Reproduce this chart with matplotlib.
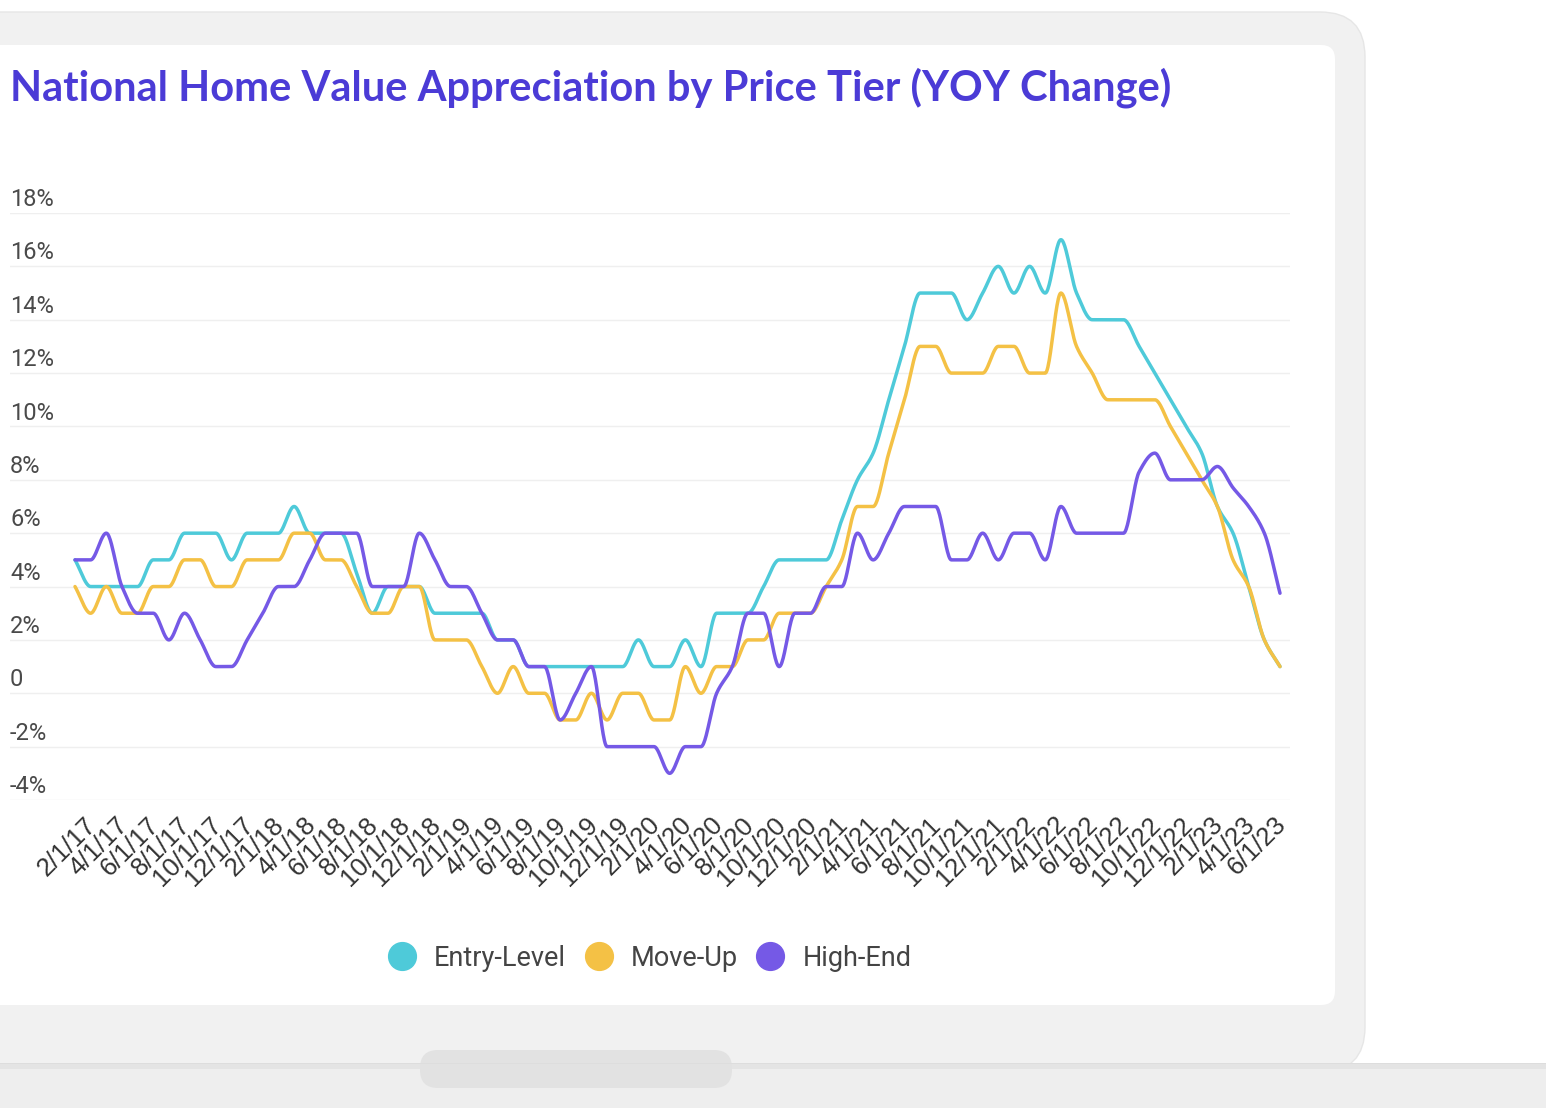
import matplotlib
matplotlib.use("Agg")
import matplotlib.pyplot as plt
import matplotlib.transforms as mtransforms
from matplotlib.lines import Line2D
from matplotlib.patches import FancyBboxPatch, Rectangle
import numpy as np
import pandas as pd

# monthly points, 2/1/17 .. 7/1/23
months = pd.date_range("2017-02-01", periods=78, freq="MS")
month_labels = [f"{d.month}/{d.day}/{d.strftime('%y')}" for d in months]

entry_level = [5, 4, 4, 4, 4, 5, 5, 6, 6, 6, 5, 6, 6, 6, 7, 6, 6, 6, 4.5, 3,
               4, 4, 4, 3, 3, 3, 3, 2, 2, 1, 1, 1, 1, 1, 1, 1, 2, 1, 1, 2,
               1, 3, 3, 3, 4, 5, 5, 5, 5, 6.5, 8, 9, 11, 13, 15, 15, 15, 14, 15, 16,
               15, 16, 15, 17, 15, 14, 14, 14, 13, 12, 11, 10, 9, 7, 6, 4, 2, 1]
move_up = [4, 3, 4, 3, 3, 4, 4, 5, 5, 4, 4, 5, 5, 5, 6, 6, 5, 5, 4, 3,
           3, 4, 4, 2, 2, 2, 1, 0, 1, 0, 0, -1, -1, 0, -1, 0, 0, -1, -1, 1,
           0, 1, 1, 2, 2, 3, 3, 3, 4, 5, 7, 7, 9, 11, 13, 13, 12, 12, 12, 13,
           13, 12, 12, 15, 13, 12, 11, 11, 11, 11, 10, 9, 8, 7, 5, 4, 2, 1]
high_end = [5, 5, 6, 4, 3, 3, 2, 3, 2, 1, 1, 2, 3, 4, 4, 5, 6, 6, 6, 4,
            4, 4, 6, 5, 4, 4, 3, 2, 2, 1, 1, -1, 0, 1, -2, -2, -2, -2, -3, -2,
            -2, 0, 1, 3, 3, 1, 3, 3, 4, 4, 6, 5, 6, 7, 7, 7, 5, 5, 6, 5,
            6, 6, 5, 7, 6, 6, 6, 6, 8.3, 9, 8, 8, 8, 8.5, 7.7, 7, 6, 3.75]

series_names = ["Entry-Level", "Move-Up", "High-End"]
colors = ["#4ECAD9", "#F4C145", "#7559E6"]
y_ticks = [-4, -2, 0, 2, 4, 6, 8, 10, 12, 14, 16, 18]


def monotone(y, steps=24):
    # Fritsch-Carlson style monotone cubic on an evenly spaced grid
    y = np.asarray(y, float)
    n = len(y)
    d = np.diff(y)
    m = np.zeros(n)
    m[0], m[-1] = d[0], d[-1]
    for k in range(1, n - 1):
        if d[k - 1] * d[k] > 0:
            m[k] = 2.0 / (1.0 / d[k - 1] + 1.0 / d[k])
    xs = np.linspace(0, n - 1, (n - 1) * steps + 1)
    k = np.minimum(np.floor(xs).astype(int), n - 2)
    t = xs - k
    h00 = 2 * t**3 - 3 * t**2 + 1
    h10 = t**3 - 2 * t**2 + t
    h01 = -2 * t**3 + 3 * t**2
    h11 = t**3 - t**2
    ys = h00 * y[k] + h10 * m[k] + h01 * y[k + 1] + h11 * m[k + 1]
    return xs, ys


W, H = 1546, 1108
fig = plt.figure(figsize=(W / 100, H / 100), dpi=100, facecolor="white")

# laptop-mockup background, drawn in pixel coords
bg = fig.add_axes([0, 0, 1, 1], zorder=-5)
bg.set_xlim(0, W)
bg.set_ylim(H, 0)
bg.axis("off")
bg.add_patch(FancyBboxPatch((-60, 12), 1425, 1060, boxstyle="round,pad=0,rounding_size=45",
                            fc="#f1f1f1", ec="#e6e6e6", lw=1))
bg.add_patch(FancyBboxPatch((-40, 45), 1375, 960, boxstyle="round,pad=0,rounding_size=14",
                            fc="white", ec="none"))
bg.add_patch(Rectangle((0, 1063), W, 45, fc="#eeeeee", ec="none"))
bg.add_patch(Rectangle((0, 1063), W, 6, fc="#e4e4e4", ec="none"))
bg.add_patch(FancyBboxPatch((420, 1050), 312, 38, boxstyle="round,pad=0,rounding_size=18",
                            fc="#e2e2e2", ec="none"))
bg.add_patch(Rectangle((0, 1063), W, 1, fc="#dddddd", ec="none"))

ax_left, ax_right = 10, 1290
ax_top, ax_bottom = 213, 800
ax = fig.add_axes([ax_left / W, 1 - ax_bottom / H, (ax_right - ax_left) / W, (ax_bottom - ax_top) / H])
ax.set_facecolor("none")

step = (1280 - 75) / 77
ax.set_xlim(-(75 - ax_left) / step, 77 + (ax_right - 1280) / step)
ax.set_ylim(-4, 18)

for vals, c in zip([entry_level, move_up, high_end], colors):
    xs, ys = monotone(vals)
    ax.plot(xs, ys, color=c, lw=2.5, solid_capstyle="round", solid_joinstyle="round", clip_on=False)

for s in ax.spines.values():
    s.set_visible(False)
ax.set_yticks(y_ticks)
ax.set_yticklabels([])
ax.tick_params(axis="y", length=0)
ax.grid(axis="y", color="#efefef", lw=1)
ax.set_axisbelow(True)

for v in y_ticks:
    lab = "0" if v == 0 else f"{v}%"
    ax.annotate(lab, xy=(ax_left / W, v), xycoords=("figure fraction", "data"),
                xytext=(0, 5), textcoords="offset points", ha="left", va="baseline",
                fontsize=17, color="#4a4a4a", family="Roboto")

tick_pos = np.arange(0, len(months), 2)
ax.set_xticks(tick_pos)
ax.set_xticklabels([month_labels[i] for i in tick_pos], rotation=45, ha="right", va="top",
                   fontsize=18.5, color="#333333", family="Liberation Sans")
ax.tick_params(axis="x", length=0, pad=9)
shift = mtransforms.ScaledTranslation(19 / 72, 0, fig.dpi_scale_trans)
for lab in ax.get_xticklabels():
    lab.set_transform(lab.get_transform() + shift)

fig.text(10 / W, 1 - 88 / H, "National Home Value Appreciation by Price Tier (YOY Change)",
         ha="left", va="center", fontsize=30, color="#4B3BD6", family="Lato", weight="bold")

handles = [Line2D([], [], ls="none", marker="o", markersize=20, markerfacecolor=c,
                  markeredgecolor=c) for c in colors]
fig.legend(handles, series_names, loc="center", bbox_to_anchor=(650 / W, 1 - 958 / H),
           ncol=3, frameon=False, handletextpad=0.68, columnspacing=0.7, handlelength=1.0,
           prop={"family": "Roboto", "size": 19.5}, labelcolor="#444444")

fig.savefig("out.png", dpi=100, facecolor=fig.get_facecolor())
